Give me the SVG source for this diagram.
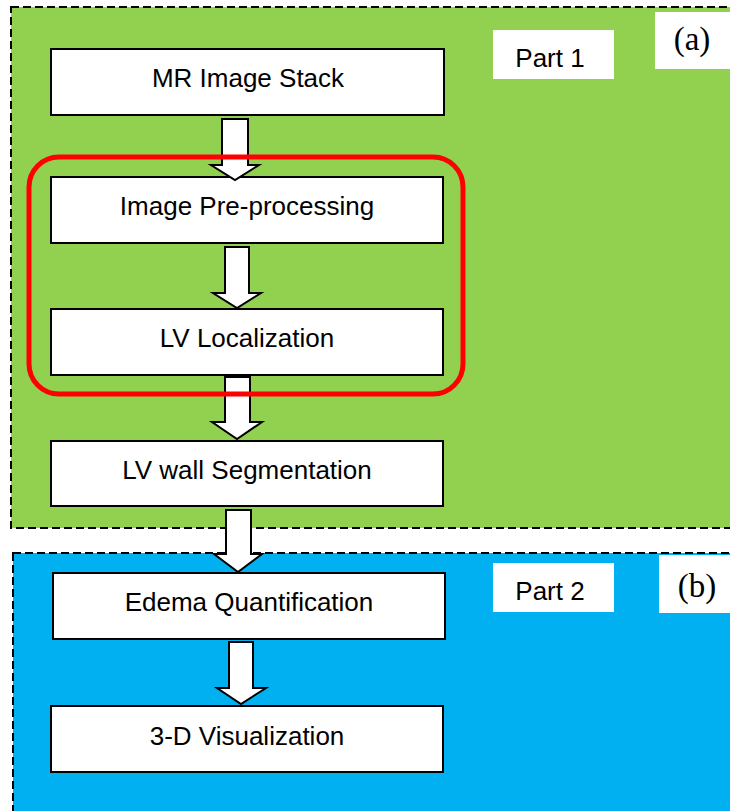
<svg xmlns="http://www.w3.org/2000/svg" width="730" height="811" viewBox="0 0 730 811">
<style>
.panel{stroke:#000;stroke-width:2;stroke-dasharray:8 4}
.box{fill:#fff;stroke:#000;stroke-width:2}
.lbl{fill:#fff}
.t{font-family:"Liberation Sans",Arial,sans-serif;font-size:26px;fill:#000;text-anchor:middle}
.s{font-family:"Liberation Serif","Times New Roman",serif;font-size:33px;fill:#000;text-anchor:middle}
.arr{fill:#fff;stroke:#000;stroke-width:2;stroke-linejoin:miter}
</style>
<rect width="730" height="811" fill="#fff"/>
<g id="panel-a">
<rect class="panel" x="11" y="7" width="730" height="521" fill="#92D050"/>
<rect class="lbl" x="493" y="30" width="121" height="49"/>
<text class="t" x="550" y="67">Part 1</text>
<rect class="lbl" x="655" y="12" width="80" height="57"/>
<text class="s" x="692" y="50">(a)</text>
</g>
<g id="panel-b">
<rect class="panel" x="13" y="553" width="730" height="270" fill="#00B0F0"/>
<rect class="lbl" x="493" y="563" width="121" height="49"/>
<text class="t" x="550" y="600">Part 2</text>
<rect class="lbl" x="659" y="555" width="80" height="58"/>
<text class="s" x="697" y="597">(b)</text>
</g>
<g id="n1"><rect class="box" x="51" y="49" width="393" height="66"/><text class="t" x="248" y="87">MR Image Stack</text></g>
<g id="n2"><rect class="box" x="51" y="177" width="392" height="66"/><text class="t" x="247" y="215">Image Pre-processing</text></g>
<g id="n3"><rect class="box" x="51" y="309" width="392" height="66"/><text class="t" x="247" y="347">LV Localization</text></g>
<g id="n4"><rect class="box" x="51" y="441" width="392" height="65"/><text class="t" x="247" y="479">LV wall Segmentation</text></g>
<g id="n5"><rect class="box" x="53" y="573" width="392" height="66"/><text class="t" x="249" y="611">Edema Quantification</text></g>
<g id="n6"><rect class="box" x="51" y="706" width="392" height="66"/><text class="t" x="247" y="745">3-D Visualization</text></g>
<g id="connectors">
<polygon class="arr" points="222,119 248,119 248,165 259,165 235,180 211,165 222,165"/>
<polygon class="arr" points="225,247 249,247 249,293 261,293 237,308 213,293 225,293"/>
<polygon class="arr" points="225,377 250,377 250,422 262,422 237,439 212,422 225,422"/>
<polygon class="arr" points="226,510 251,510 251,554 262,554 238,572 214,554 226,554"/>
<polygon class="arr" points="229,642 253,642 253,688 266,688 241,704 217,688 229,688"/>
</g>
<g id="group-highlight">
<rect x="29" y="157" width="434" height="237" rx="30" ry="30" fill="none" stroke="#FF0000" stroke-width="5"/>
</g>
</svg>
